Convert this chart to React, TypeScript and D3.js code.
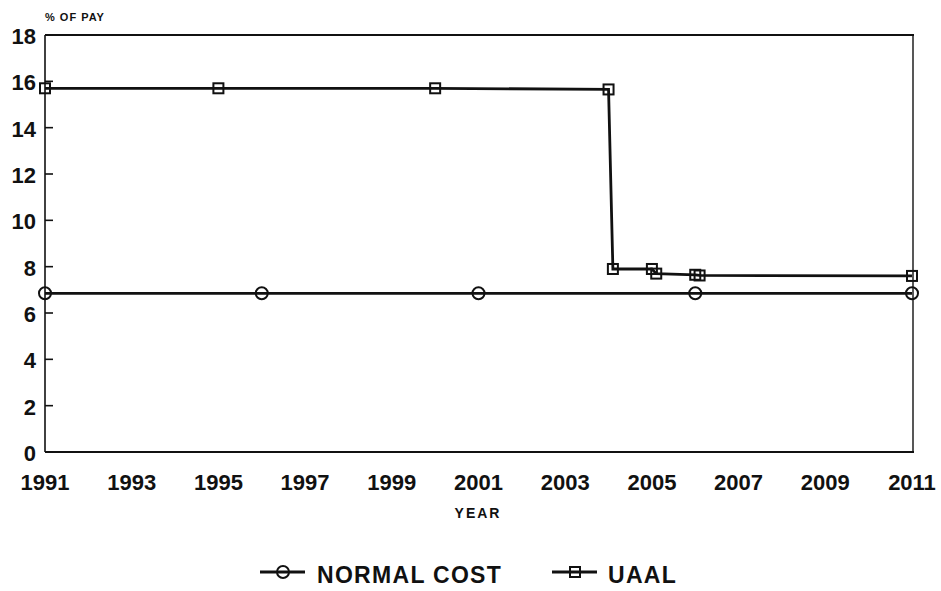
import React from 'react';
import * as d3 from 'd3';

// UAAL (stepped) and normal cost, % of pay
const uaalYears = [1991, 1995, 2000, 2004, 2004.1, 2005, 2005.1, 2006, 2006.1, 2011];
const uaalValues = [15.7, 15.7, 15.7, 15.65, 7.9, 7.9, 7.7, 7.65, 7.62, 7.6];
const normalYears = [1991, 1996, 2001, 2006, 2011];
const normalValues = [6.85, 6.85, 6.85, 6.85, 6.85];
const xTicks = [1991, 1993, 1995, 1997, 1999, 2001, 2003, 2005, 2007, 2009, 2011];
const yTicks = [0, 2, 4, 6, 8, 10, 12, 14, 16, 18];

const FONT = '"Liberation Sans", Arial, sans-serif';

const App: React.FC = () => {
  const width = 941;
  const height = 591;
  const left = 45;
  const right = 912;
  const top = 35;
  const bottom = 452;

  const x = d3.scaleLinear().domain([1991, 2011]).range([left, right]);
  const y = d3.scaleLinear().domain([0, 18]).range([bottom, top]);

  const line = d3.line<[number, number]>()
    .x(d => x(d[0]))
    .y(d => y(d[1]));

  const uaal: [number, number][] = uaalYears.map((yr, i) => [yr, uaalValues[i]]);
  const normal: [number, number][] = normalYears.map((yr, i) => [yr, normalValues[i]]);

  const square = (cx: number, cy: number, key: string) => (
    <rect key={key} x={cx - 5} y={cy - 5} width={10} height={10}
      fill="none" stroke="#111" strokeWidth={2} />
  );
  const circle = (cx: number, cy: number, key: string) => (
    <circle key={key} cx={cx} cy={cy} r={6} fill="none" stroke="#111" strokeWidth={2} />
  );

  return (
    <svg width={width} height={height} style={{ position: 'absolute', left: 0, top: 0, background: '#fff' }}
      fontFamily={FONT}>
      {/* frame */}
      <line x1={left} y1={top} x2={right + 2} y2={top} stroke="#111" strokeWidth={2.2} />
      <line x1={left} y1={top} x2={left} y2={bottom} stroke="#111" strokeWidth={1.6} />
      <line x1={left} y1={bottom} x2={right + 2} y2={bottom} stroke="#111" strokeWidth={2.2} />
      <line x1={right + 1} y1={top} x2={right + 1} y2={bottom} stroke="#111" strokeWidth={1.4} />

      {/* y ticks and labels */}
      {yTicks.map(t => (
        <g key={'y' + t}>
          <line x1={left} x2={left + 8} y1={y(t)} y2={y(t)} stroke="#111" strokeWidth={1.6} />
          <text x={left - 9} y={y(t) + 9} textAnchor="end" fontSize={22} fontWeight="bold" fill="#111">
            {t}
          </text>
        </g>
      ))}

      {/* x labels */}
      {xTicks.map(t => (
        <text key={'x' + t} x={x(t)} y={490} textAnchor="middle" fontSize={22} fontWeight="bold" fill="#111">
          {t}
        </text>
      ))}

      <text x={478} y={518} textAnchor="middle" fontSize={14} fontWeight="bold" letterSpacing={2} fill="#111">
        YEAR
      </text>
      <text x={45} y={21} fontSize={11} fontWeight="bold" letterSpacing={1} fill="#111">
        % OF PAY
      </text>

      {/* series */}
      <path d={line(normal) || ''} fill="none" stroke="#111" strokeWidth={2.8} />
      <path d={line(uaal) || ''} fill="none" stroke="#111" strokeWidth={2.8} />
      {normal.map((d, i) => circle(x(d[0]), y(d[1]), 'c' + i))}
      {uaal.map((d, i) => square(x(d[0]), y(d[1]), 's' + i))}

      {/* legend */}
      <g>
        <line x1={260} x2={305} y1={572} y2={572} stroke="#111" strokeWidth={2.8} />
        {circle(283, 572, 'lc')}
        <text x={317} y={583} fontSize={23} fontWeight="bold" letterSpacing={1.3} fill="#111">NORMAL COST</text>
        <line x1={552} x2={597} y1={572} y2={572} stroke="#111" strokeWidth={2.8} />
        {square(575, 572, 'ls')}
        <text x={608} y={583} fontSize={23} fontWeight="bold" letterSpacing={1.3} fill="#111">UAAL</text>
      </g>
    </svg>
  );
};

export default App;
